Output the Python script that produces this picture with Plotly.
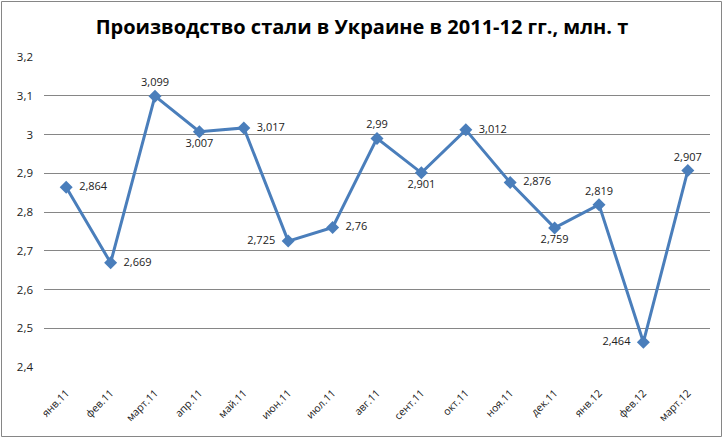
import plotly.graph_objects as go

months = ["янв.11", "фев.11", "март.11", "апр.11", "май.11", "июн.11", "июл.11",
          "авг.11", "сент.11", "окт.11", "ноя.11", "дек.11", "янв.12", "фев.12", "март.12"]
values = [2.864, 2.669, 3.099, 3.007, 3.017, 2.725, 2.76,
          2.99, 2.901, 3.012, 2.876, 2.759, 2.819, 2.464, 2.907]
label_pos = ["middle right", "middle right", "top center", "bottom center", "middle right",
             "middle left", "middle right", "top center", "bottom center", "middle right",
             "middle right", "bottom center", "top center", "middle left", "top center"]
y_ticks = [2.4, 2.5, 2.6, 2.7, 2.8, 2.9, 3.0, 3.1, 3.2]
y_tick_text = ["2,4", "2,5", "2,6", "2,7", "2,8", "2,9", "3", "3,1", "3,2"]
title = "Производство стали в Украине в 2011-12 гг., млн. т"

texts = ["  " + str(v).replace(".", ",") + "  " for v in values]

fig = go.Figure()
fig.add_trace(go.Scatter(
    x=months, y=values, mode="lines+markers+text",
    line=dict(color="#4A7EBB", width=3),
    marker=dict(symbol="diamond", size=10, color="#4A7EBB"),
    text=texts, textposition=label_pos,
    textfont=dict(family="Open Sans", size=11, color="#222222"),
    cliponaxis=False, hoverinfo="skip",
))

W, H = 724, 439
ml, mr, mt, mb = 44, 14, 57, 72
pw, ph = W - ml - mr, H - mt - mb

fig.update_layout(
    width=W, height=H,
    margin=dict(l=ml, r=mr, t=mt, b=mb),
    paper_bgcolor="white", plot_bgcolor="white",
    showlegend=False,
    title=dict(text="<b>" + title + "</b>", x=0.5, xanchor="center", y=1 - 27 / H, yanchor="middle",
               font=dict(family="Open Sans", size=20, color="black")),
    xaxis=dict(showgrid=False, zeroline=False, showline=False, tickangle=-45,
               automargin=False, range=[-0.5, len(months) - 0.5],
               ticks="outside", ticklen=15, tickcolor="rgba(255,255,255,0)",
               tickfont=dict(family="Open Sans", size=10.5, color="#222222")),
    yaxis=dict(range=[2.4, 3.2], tickvals=y_ticks, ticktext=y_tick_text,
               automargin=False,
               showgrid=True, gridcolor="#868686", gridwidth=1, zeroline=False,
               showline=False, ticks="", ticklabelstandoff=10,
               tickfont=dict(family="Open Sans", size=11.5, color="#222222")),
    shapes=[dict(type="rect", xref="paper", yref="paper",
                 x0=(1.5 - ml) / pw, x1=(W - 2.5 - ml) / pw,
                 y0=-(H - 2.5 - (H - mb)) / ph, y1=(H - mb - 1.5) / ph,
                 line=dict(color="#868686", width=1))],
)

fig.write_html("out.html", config={"displayModeBar": False},
               post_script="document.body.style.margin='0';document.body.style.overflow='hidden';")
